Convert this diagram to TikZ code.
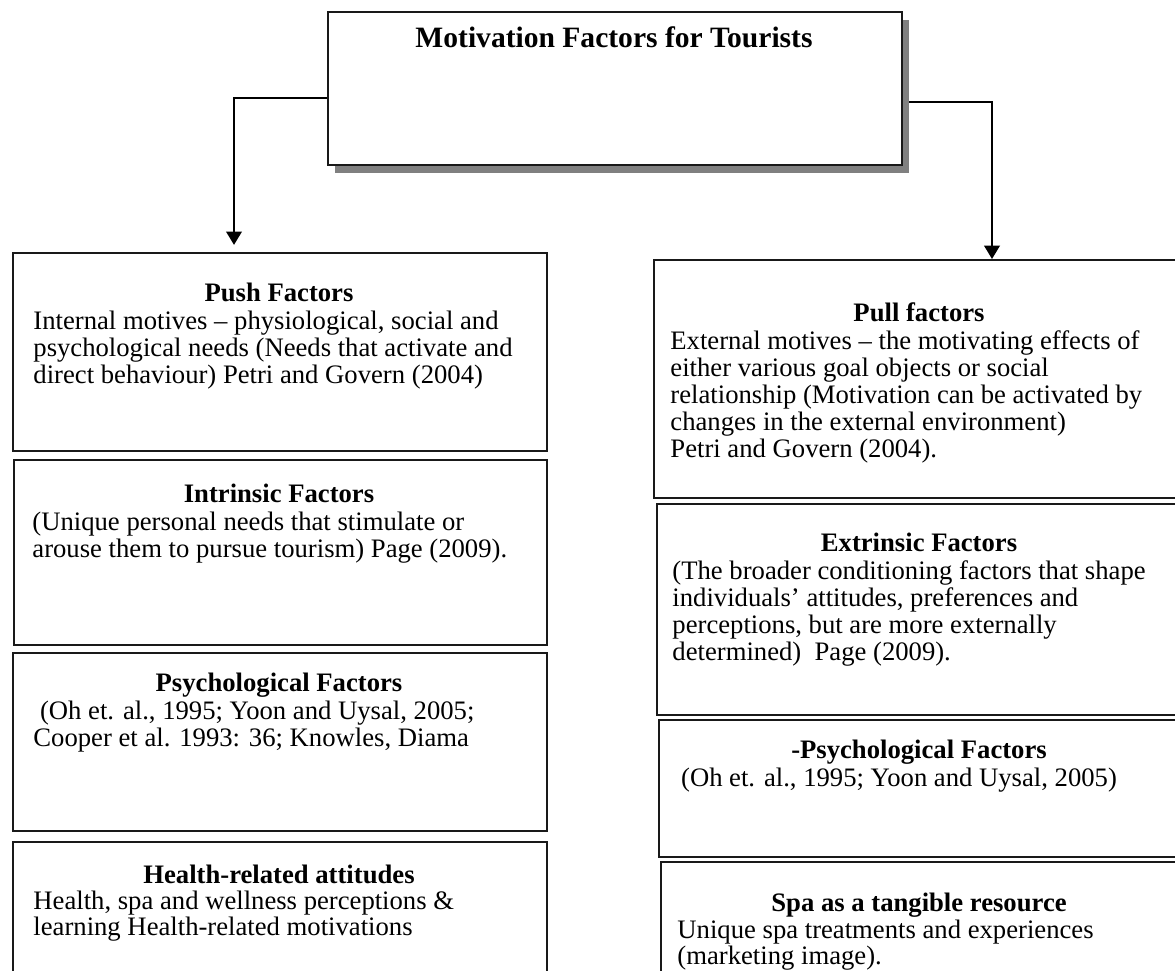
\documentclass[tikz,border=0pt]{standalone}
\usepackage{fontspec}
\setmainfont{Liberation Serif}
\usetikzlibrary{arrows.meta,shadows,calc}
\newcommand{\mylines}[1]{\parbox[t]{270pt}{\raggedright #1}}
\tikzset{
  box/.style={draw=black!90, line width=1pt, anchor=north west, inner sep=0pt},
  head/.style={anchor=base, inner sep=0pt, font=\bfseries\fontsize{12}{12.05}\selectfont},
  body/.style={anchor=base west, inner sep=0pt, font=\fontsize{12}{12.05}\selectfont},
  conn/.style={line width=0.9pt, -{Triangle[length=6pt,width=7pt]}}
}
\begin{document}
\begin{tikzpicture}[x=0.45pt,y=-0.45pt]
\clip (0,0) rectangle (1175,971);
\fill[white] (0,0) rectangle (1175,971);
% title
\node[box, minimum width={574*0.45pt}, minimum height={153*0.45pt},
  fill=white, drop shadow={shadow xshift=3.15pt, shadow yshift=-3.6pt, fill=black!50, opacity=1}]
  (title) at (327,11) {};
\node[anchor=base, inner sep=0pt, font=\bfseries\fontsize{13.3}{15}\selectfont] (ttext) at (614,48) {Motivation Factors for Tourists};
% left column
\node[box, minimum width={534*0.45pt}, minimum height={198*0.45pt}] (push) at (12,252) {};
\node[head] (pushh) at (279,302) {Push Factors};
\node[body] (pushb) at (33,330) {\mylines{Internal motives – physiological, social and\\psychological needs (Needs that activate and\\direct behaviour) Petri and Govern (2004)}};

\node[box, minimum width={533*0.45pt}, minimum height={185*0.45pt}] (intr) at (13,459) {};
\node[head] (intrh) at (279,503) {Intrinsic Factors};
\node[body] (intrb) at (32,531) {\mylines{(Unique personal needs that stimulate or\\arouse them to pursue tourism) Page (2009).}};

\node[box, minimum width={534*0.45pt}, minimum height={178*0.45pt}] (psyl) at (12,652) {};
\node[head] (psylh) at (279,692) {Psychological Factors};
\node[body] (psylb) at (33,720) {\mylines{\hspace*{0.25em}(Oh et. al., 1995; Yoon and Uysal, 2005;\\Cooper et al. 1993: 36; Knowles, Diama}};

\node[box, minimum width={534*0.45pt}, minimum height={200*0.45pt}] (health) at (12,841) {};
\node[head] (healthh) at (279,883) {Health-related attitudes};
\node[body] (healthb) at (33,909) {\mylines{Health, spa and wellness perceptions \&\\learning Health-related motivations}};
% right column
\node[box, minimum width={530*0.45pt}, minimum height={238*0.45pt}] (pull) at (653,259) {};
\node[head] (pullh) at (919,322) {Pull factors};
\node[body] (pullb) at (670,350) {\mylines{External motives – the motivating effects of\\either various goal objects or social\\relationship (Motivation can be activated by\\changes in the external environment)\\Petri and Govern (2004).}};

\node[box, minimum width={527*0.45pt}, minimum height={211*0.45pt}] (extr) at (656,503) {};
\node[head] (extrh) at (919,552) {Extrinsic Factors};
\node[body] (extrb) at (672,580) {\mylines{(The broader conditioning factors that shape\\individuals’ attitudes, preferences and\\perceptions, but are more externally\\determined)\ \ Page (2009).}};

\node[box, minimum width={525*0.45pt}, minimum height={137*0.45pt}] (psyr) at (658,719) {};
\node[head] (psyrh) at (919,759) {-Psychological Factors};
\node[body] (psyrb) at (674,786) {\mylines{\hspace*{0.25em}(Oh et. al., 1995; Yoon and Uysal, 2005)}};

\node[box, minimum width={523*0.45pt}, minimum height={200*0.45pt}] (spa) at (660,861) {};
\node[head] (spah) at (919,911) {Spa as a tangible resource};
\node[body] (spab) at (677,938) {\mylines{Unique spa treatments and experiences\\(marketing image).}};
% connectors
\coordinate (lc) at (234,98);
\coordinate (rc) at (992,102);
\draw[conn, shorten >=3.2pt] (title.west |- lc) -| (lc |- push.north);
\draw[conn] ([xshift=2.7pt]title.east |- rc) -| (rc |- pull.north);
\end{tikzpicture}
\end{document}
